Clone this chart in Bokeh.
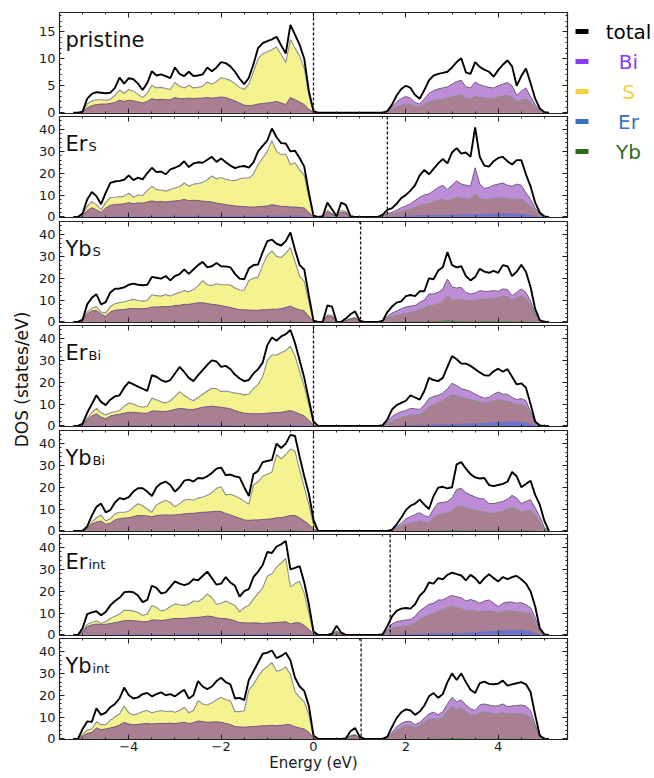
import numpy as np
from bokeh.plotting import figure
from bokeh.layouts import row, column
from bokeh.models import Range1d, SingleIntervalTicker, LinearAxis, Span, Label, ColumnDataSource
from bokeh.embed import file_html
from bokeh.resources import INLINE
from bokeh.core.properties import value

# energy grid (eV): -5.2 ... 5.1, step 0.1  (valence 54 pts | gap 12 pts | conduction 38 pts)
energy = [round(-5.2 + 0.1 * k, 1) for k in range(104)]

x_tick_labels = {-4: "\u22124", -2: "\u22122", 0: "0", 2: "2", 4: "4"}

# ---------------- pristine ----------------
pristine_total = [0,0,0.2,2.6,3.5,3.8,3.7,3.6,3.7,4.6, 6.5,5.4,6.4,6.2,5.4,4.2,5.5,7.7,6.9,7.1, 6.8,6.4,8.4,7.2,6.8,7.6,6.8,6.9,7.1,8.4, 7.7,8.4,9.4,9.2,8.6,7.6,6.3,5.3,6.5,9.0, 12.0,12.9,13.3,13.6,14.1,12.5,11.0,16.3,14.5,12.6, 10.0,4.0,0.3,0,
    0,0,0,0,0,0,0,0,0,0,0,0,
    0,0,0.3,1.5,3.2,4.4,5.0,4.6,3.3,2.6, 4.2,6.0,6.9,7.2,7.4,7.6,8.4,9.4,10.1,7.5, 7.2,9.4,8.5,8.0,7.6,6.7,7.9,8.9,9.7,8.6, 5.0,6.8,8.2,5.5,2.6,0.8,0.1,0]
pristine_s = [0,0,0.1,1.6,2.2,2.4,2.4,2.3,2.5,3.2, 4.2,3.6,4.3,4.0,3.4,2.8,3.6,5.1,4.6,4.7, 4.5,4.3,5.6,4.9,4.6,5.1,4.6,4.7,4.9,5.7, 5.3,5.8,6.5,6.3,6.0,5.4,4.7,4.3,5.3,7.6, 10.0,10.9,11.3,11.7,12.2,10.8,9.3,13.6,12.0,10.5, 8.2,3.2,0.2,0,
    0,0,0,0,0,0,0,0,0,0,0,0,
    0,0,0.1,0.6,1.1,1.4,1.6,1.5,1.1,1.0, 1.5,2.0,2.2,2.4,2.5,2.7,2.9,3.2,3.3,2.7, 2.5,3.0,2.8,2.7,2.6,2.6,2.9,3.1,3.2,2.9, 2.0,2.3,2.6,1.8,1.0,0.3,0.05,0]
pristine_bi = [0,0,0.1,0.9,1.3,1.5,1.6,1.6,1.7,1.9, 2.3,2.1,2.3,2.2,2.0,1.8,2.1,2.6,2.4,2.5, 2.4,2.4,2.8,2.6,2.6,2.7,2.6,2.7,2.7,2.8, 2.7,2.8,2.9,2.8,2.5,2.2,1.8,1.4,1.3,1.4, 1.6,1.7,1.8,1.9,2.1,1.8,1.5,2.8,2.4,2.0, 1.5,0.6,0.1,0,
    0,0,0,0,0,0,0,0,0,0,0,0,
    0,0,0.2,1.0,2.0,2.6,3.0,2.7,1.9,1.6, 2.6,3.6,4.1,4.4,4.6,4.8,5.3,5.8,6.0,4.8, 4.6,5.7,5.2,4.9,4.7,4.6,5.0,5.3,5.6,5.0, 3.2,4.0,4.6,3.0,1.5,0.5,0.1,0]

# ---------------- Er_S ----------------
ers_total = [0,0,1.5,8.0,11.4,9.5,5.8,11.0,15.6,16.2, 16.5,17.0,19.0,16.8,18.0,17.2,20.0,22.5,20.5,20.8, 19.5,21.8,22.5,23.5,25.5,22.8,24.5,25.0,24.8,26.2, 27.5,25.2,26.8,25.0,23.5,22.3,23.0,23.3,22.6,25.0, 30.0,32.5,35.0,40.5,36.5,33.8,33.6,30.0,30.3,27.0, 23.0,11.0,0.5,0,
    0.3,6.5,3.5,0.3,6.5,5.5,0.3,0,0,0,0,0,
    0,1.0,3.2,4.0,6.0,8.6,10.0,12.0,14.5,19.0, 21.5,19.5,22.0,24.5,26.5,24.5,29.5,31.5,29.0,29.5, 27.5,41.0,27.5,23.5,23.0,25.5,27.0,27.5,25.5,24.0, 26.0,26.0,19.5,14.0,6.5,2.0,0.2,0]
ers_s = [0,0,0.8,4.8,7.0,5.5,3.2,6.5,8.9,9.0, 9.2,9.5,10.8,9.0,10.0,9.8,12.0,14.0,12.5,12.3, 11.8,12.5,13.2,13.8,15.5,14.0,15.0,15.3,15.8,17.0, 18.7,17.5,18.0,17.2,16.8,16.6,17.5,17.8,17.8,19.5, 24.0,27.0,30.0,35.0,30.0,28.5,28.8,24.0,24.8,21.5, 19.0,9.0,0.4,0,
    0.1,3.0,1.6,0.1,2.9,2.5,0.1,0,0,0,0,0,
    0,0.3,0.8,1.2,1.8,2.4,3.0,3.5,4.3,5.2, 5.8,6.0,6.8,7.5,8.0,7.2,8.0,8.8,8.5,8.3, 8.2,10.5,8.5,7.8,8.0,8.3,8.5,8.7,8.3,8.0, 8.2,8.0,6.5,4.8,2.5,0.8,0.1,0]
ers_bi = [0,0,0.5,2.8,4.2,3.2,2.0,4.0,5.3,5.6, 5.8,6.0,6.5,6.0,6.4,6.3,6.8,7.3,6.9,7.0, 6.8,7.1,7.3,7.5,8.0,7.4,7.6,7.5,7.2,7.0, 6.8,6.3,6.0,5.6,5.3,5.0,4.8,4.7,4.5,4.5, 4.6,4.8,5.0,5.6,5.2,4.8,4.8,4.5,4.5,4.3, 4.0,2.0,0.1,0,
    0.1,2.2,1.2,0.1,2.1,1.8,0.1,0,0,0,0,0,
    0,0.5,1.5,2.0,3.0,4.2,5.0,6.0,7.5,9.0, 10.0,10.5,12.0,13.5,14.5,12.5,14.5,16.5,15.0,14.5, 14.0,22.5,15.0,13.0,13.5,14.5,15.0,15.5,14.5,14.0, 15.0,14.5,11.0,8.0,4.0,1.2,0.1,0]
ers_er = [0,0,0.1,0.2,0.3,0.2,0.2,0.2,0.3,0.3, 0.3,0.3,0.3,0.3,0.3,0.3,0.3,0.4,0.3,0.3, 0.3,0.3,0.4,0.4,0.4,0.4,0.4,0.4,0.4,0.4, 0.4,0.4,0.4,0.4,0.4,0.4,0.4,0.4,0.4,0.4, 0.5,0.5,0.5,0.6,0.5,0.5,0.5,0.5,0.5,0.5, 0.4,0.2,0,0,
    0,0.5,0.3,0,0.4,0.4,0,0,0,0,0,0,
    0,0,0.1,0.2,0.3,0.4,0.5,0.6,0.7,0.8, 0.8,0.9,0.9,1.0,1.0,1.0,1.1,1.1,1.2,1.2, 1.2,1.3,1.3,1.3,1.4,1.4,1.5,1.5,1.5,1.5, 1.5,1.4,1.2,0.9,0.5,0.2,0,0]

# ---------------- Yb_S ----------------
ybs_total = [0,0,1.0,8.0,11.0,12.6,8.0,9.0,13.5,15.2, 15.3,15.8,17.0,17.5,17.0,16.8,17.0,20.6,20.2,19.8, 21.0,19.0,21.0,21.9,24.0,22.0,24.0,26.0,27.5,25.0, 25.5,27.0,25.5,25.4,25.0,22.0,19.8,19.5,24.5,26.0, 26.3,32.0,37.0,37.7,35.8,35.0,37.0,41.0,33.0,26.0, 24.0,12.0,0.5,0,
    0,7.5,7.0,0,0,1.5,3.5,4.8,0.5,0,0,0,
    0,0.5,4.5,7.0,8.8,9.4,11.8,12.3,11.8,14.0, 14.0,20.0,19.5,23.5,25.0,32.0,26.0,25.0,25.5,21.0, 19.0,20.5,24.3,23.0,22.5,23.4,22.5,26.0,25.5,21.0, 23.0,26.2,23.0,16.0,6.0,0.8,0,0]
ybs_s = [0,0,0.6,4.5,6.2,7.0,4.5,4.0,7.0,8.3, 8.8,9.2,9.8,10.3,9.8,9.5,9.8,12.4,12.0,11.8, 12.5,11.8,12.8,13.5,14.3,13.8,14.8,16.5,18.9,17.0, 16.6,17.5,17.0,17.0,16.9,15.5,14.6,14.5,19.0,20.0, 20.5,26.0,30.5,32.5,30.0,29.5,31.5,34.0,27.5,21.0, 18.5,9.0,0.3,0,
    0,3.2,3.0,0,0,0.6,1.5,2.0,0.2,0,0,0,
    0,0.2,1.5,2.3,2.9,3.3,3.8,4.3,4.6,5.5, 6.3,7.5,7.6,8.3,9.2,11.8,10.0,10.0,10.2,9.8, 9.5,9.8,10.5,10.5,10.6,10.8,11.0,11.8,11.5,10.0, 10.8,11.8,10.5,7.5,3.0,0.3,0,0]
ybs_bi = [0,0,0.4,3.5,5.0,5.2,3.5,2.5,4.5,5.3, 5.5,5.7,6.0,6.1,6.0,6.0,6.2,6.8,6.8,6.9, 7.0,7.0,7.5,7.6,8.0,8.0,8.4,8.7,8.8,8.4, 8.0,7.8,7.4,7.0,6.6,6.0,5.6,5.5,5.4,5.3, 5.3,5.5,5.6,5.8,5.8,6.0,6.6,7.2,6.2,5.5, 5.0,2.5,0.1,0,
    0,2.5,2.3,0,0,0.5,1.2,1.6,0.2,0,0,0,
    0,0.3,2.5,4.0,5.0,6.0,6.8,7.2,7.5,9.0, 10.0,12.8,12.8,13.5,15.0,19.6,16.0,15.5,15.8,13.5, 12.8,13.2,14.3,14.0,14.0,14.3,14.0,15.1,14.8,12.0, 13.5,15.1,13.5,9.5,4.0,0.5,0,0]
ybs_yb = [0,0,0,0.1,0.2,0.2,0.1,0.1,0.2,0.2, 0.2,0.2,0.2,0.2,0.2,0.2,0.2,0.2,0.2,0.2, 0.2,0.2,0.2,0.2,0.2,0.2,0.2,0.2,0.3,0.2, 0.2,0.2,0.2,0.2,0.2,0.2,0.2,0.2,0.2,0.2, 0.2,0.3,0.3,0.3,0.3,0.3,0.3,0.3,0.3,0.2, 0.2,0.1,0,0,
    0,0.4,0.3,0,0,0.1,0.2,0.3,0,0,0,0,
    0,0,0.1,0.2,0.2,0.3,0.3,0.3,0.3,0.3, 0.3,0.4,0.4,0.4,0.5,0.8,0.5,0.4,0.4,0.4, 0.3,0.3,0.4,0.4,0.4,0.4,0.4,0.4,0.4,0.3, 0.3,0.4,0.3,0.2,0.1,0,0,0]

# ---------------- Er_Bi ----------------
erbi_total = [0,0,1.0,6.0,10.0,14.0,11.0,9.5,12.0,13.5, 14.0,17.5,20.0,19.0,18.0,17.0,16.0,23.2,22.5,21.0, 20.2,21.0,24.0,27.0,24.7,22.0,20.5,23.2,25.5,28.0, 30.0,29.5,27.0,27.5,26.0,23.5,21.7,20.5,21.0,24.0, 26.0,29.0,37.0,40.5,39.0,41.0,42.0,44.0,38.0,30.0, 22.0,12.0,2.0,0,
    0,0,0,0,0,0,0,0,0,0,0,0,
    0,0.3,3.0,7.5,9.5,10.5,11.5,14.0,13.0,12.0, 16.0,22.0,21.0,20.5,22.0,27.0,32.0,30.5,28.5,28.5, 27.5,26.0,24.5,23.2,23.0,25.0,26.2,24.8,26.0,22.5, 19.0,19.5,17.5,10.0,2.0,0.2,0,0]
erbi_s = [0,0,0.5,3.5,6.0,8.0,6.0,5.0,6.0,6.5, 7.0,9.0,10.5,10.0,9.0,8.5,9.0,12.7,12.0,11.0, 10.5,11.5,13.5,15.7,14.0,12.5,11.5,13.0,14.5,16.0, 17.2,17.0,15.7,16.0,15.5,15.0,14.8,14.2,14.5,17.0, 19.0,22.5,30.0,32.5,32.5,33.5,34.5,36.5,32.0,25.0, 18.0,9.5,1.5,0,
    0,0,0,0,0,0,0,0,0,0,0,0,
    0,0.1,1.0,2.2,3.0,3.8,4.3,5.0,5.0,5.2, 6.5,8.5,9.5,10.5,11.5,13.0,14.2,13.8,13.0,12.5, 12.0,11.5,11.0,10.5,10.8,11.5,12.0,11.5,11.3,10.5, 9.8,9.7,9.0,5.0,1.2,0.1,0,0]
erbi_bi = [0,0,0.4,2.8,4.5,5.5,4.0,3.2,4.5,5.0, 5.3,5.8,6.2,6.2,6.0,5.8,5.8,6.8,6.8,6.6, 6.6,7.0,7.5,8.0,7.8,7.5,7.5,8.0,8.5,8.8, 9.0,8.8,8.5,8.2,7.8,7.0,6.3,5.8,5.6,5.5, 5.5,5.6,5.8,6.0,6.0,6.2,6.6,7.0,6.3,5.5, 4.5,2.5,0.4,0,
    0,0,0,0,0,0,0,0,0,0,0,0,
    0,0.2,2.0,4.3,5.5,6.5,7.0,8.0,7.8,7.5, 9.5,12.5,13.5,14.0,15.0,17.0,19.5,18.5,17.0,16.5, 15.7,14.5,13.5,12.7,13.0,14.5,15.5,14.5,14.5,13.0, 12.0,12.5,11.5,6.5,1.5,0.1,0,0]
erbi_er = [0,0,0.1,0.2,0.2,0.3,0.2,0.2,0.2,0.3, 0.3,0.3,0.3,0.3,0.3,0.3,0.3,0.3,0.3,0.3, 0.3,0.3,0.3,0.4,0.4,0.4,0.4,0.4,0.4,0.4, 0.4,0.4,0.4,0.4,0.4,0.3,0.3,0.3,0.3,0.3, 0.3,0.4,0.4,0.4,0.4,0.4,0.4,0.4,0.4,0.3, 0.3,0.2,0,0,
    0,0,0,0,0,0,0,0,0,0,0,0,
    0,0,0.1,0.2,0.3,0.3,0.3,0.4,0.4,0.5, 0.5,0.6,0.6,0.7,0.8,0.8,0.9,1.0,1.0,1.1, 1.2,1.2,1.3,1.4,1.5,1.7,1.8,1.9,2.0,2.0, 2.0,1.9,1.6,1.0,0.3,0,0,0]

# ---------------- Yb_Bi ----------------
ybbi_total = [0,0,0,2.0,7.0,11.0,12.5,8.5,9.5,13.0, 15.0,14.5,15.5,18.0,19.5,19.5,18.0,16.0,20.0,21.8, 22.6,21.0,18.0,20.0,23.0,23.5,22.6,24.2,24.0,25.0, 26.5,28.5,29.0,25.5,25.8,25.0,24.5,20.0,16.0,26.0, 27.5,31.5,32.0,32.5,40.0,38.0,40.0,44.0,43.5,34.0, 25.0,17.0,5.0,0,
    0,0,0,0,0,0,0,0,0,0,0,0,
    0,0,0,0.5,3.0,6.0,9.5,11.5,12.5,14.3, 12.0,10.0,16.0,19.8,20.2,19.5,20.0,30.5,31.5,28.5, 26.0,24.5,24.0,24.2,21.0,20.5,21.0,21.5,22.5,27.0, 25.0,20.0,21.5,23.0,16.5,12.0,4.5,0]
ybbi_s = [0,0,0,1.0,4.0,6.0,7.3,4.5,5.5,7.8, 8.5,8.5,9.0,10.9,12.4,11.5,10.0,8.5,12.0,13.0, 14.0,13.0,11.0,12.5,14.0,14.5,14.0,15.0,15.5,16.3, 17.5,19.5,20.2,16.5,16.8,16.0,15.0,13.5,12.3,21.0, 22.5,25.0,26.0,27.0,35.0,33.0,35.0,37.5,36.5,28.0, 20.0,12.0,3.0,0,
    0,0,0,0,0,0,0,0,0,0,0,0,
    0,0,0,0.2,1.0,2.0,3.0,3.5,4.0,4.5, 3.8,3.5,6.0,7.5,7.8,8.2,9.0,11.0,11.3,10.5, 10.0,9.5,9.0,8.8,8.0,8.2,8.5,9.0,9.8,10.6, 10.0,8.5,9.0,9.5,7.0,4.0,0.8,0]
ybbi_bi = [0,0,0,0.8,3.0,4.0,4.5,3.0,3.5,5.0, 5.6,5.8,6.0,6.5,7.0,7.0,6.8,6.5,7.0,7.2, 7.3,7.2,7.3,7.5,7.8,8.0,8.0,8.3,8.5,8.6, 8.8,9.0,8.8,8.0,7.3,6.5,5.8,5.0,4.8,5.0, 5.0,5.2,5.3,5.5,6.0,6.0,6.5,7.0,7.0,6.0, 4.5,3.0,0.8,0,
    0,0,0,0,0,0,0,0,0,0,0,0,
    0,0,0,0.3,1.8,3.5,5.5,6.5,7.5,8.3, 7.0,6.3,10.0,12.8,13.0,13.5,15.0,19.0,19.5,17.5, 16.5,15.5,14.8,14.5,12.5,12.5,13.0,13.5,14.5,16.3, 15.0,12.5,13.5,14.3,10.5,6.5,1.5,0]
ybbi_yb = [0,0,0,0.1,0.2,0.2,0.2,0.1,0.2,0.2, 0.2,0.2,0.2,0.2,0.2,0.2,0.2,0.2,0.2,0.2, 0.2,0.2,0.2,0.2,0.2,0.2,0.2,0.2,0.2,0.2, 0.3,0.3,0.3,0.2,0.2,0.2,0.2,0.2,0.2,0.2, 0.2,0.2,0.2,0.2,0.3,0.3,0.3,0.3,0.3,0.2, 0.2,0.1,0,0,
    0,0,0,0,0,0,0,0,0,0,0,0,
    0,0,0,0,0.1,0.1,0.2,0.2,0.2,0.2, 0.2,0.2,0.3,0.3,0.3,0.3,0.3,0.4,0.4,0.3, 0.3,0.3,0.3,0.3,0.3,0.3,0.3,0.3,0.3,0.3, 0.3,0.3,0.3,0.3,0.2,0.1,0,0]

# ---------------- Er_int ----------------
erint_total = [0,0,3.0,9.5,10.3,10.8,9.0,10.5,13.5,15.5, 17.0,19.5,19.8,19.5,18.0,15.0,16.0,22.5,21.5,19.0, 19.5,22.0,24.5,23.5,22.8,23.5,25.5,25.0,27.0,29.0, 26.0,23.0,23.5,26.5,24.0,22.5,17.5,20.0,21.0,26.5, 29.0,32.0,38.0,37.5,40.5,41.5,43.0,30.0,30.7,31.5, 24.0,14.0,1.5,0,
    0,0,0.5,4.2,1.0,0,0,0,0,0,0,0,
    0,0.3,4.0,8.5,11.0,12.0,12.3,12.0,14.0,18.0, 20.0,24.0,23.5,26.0,25.5,27.5,28.5,27.8,27.2,25.0, 27.5,26.0,23.5,26.0,27.8,26.0,24.5,26.5,25.5,26.5, 27.0,25.5,23.5,20.0,13.0,3.0,0.2,0]
erint_s = [0,0,1.5,4.8,5.8,6.5,5.2,6.0,7.5,8.5, 9.5,11.3,11.2,11.0,10.2,9.0,9.5,13.5,12.5,11.0, 11.5,13.0,14.2,13.8,13.5,14.0,15.5,15.3,16.5,18.8, 17.0,14.0,14.5,15.5,14.5,13.5,10.5,12.5,13.5,16.5, 19.0,21.5,27.0,28.0,31.0,33.0,35.0,22.0,23.5,24.5, 19.0,10.0,1.0,0,
    0,0,0.2,1.8,0.4,0,0,0,0,0,0,0,
    0,0.1,1.5,3.0,3.5,3.8,4.2,4.5,5.3,7.0, 8.0,9.2,9.8,10.8,11.5,12.5,13.0,12.5,12.0,11.0, 11.2,11.0,10.5,10.8,11.0,10.5,10.0,10.5,11.0,11.0, 10.5,10.5,10.0,9.5,5.5,1.5,0.1,0]
erint_bi = [0,0,1.2,3.8,4.5,5.0,4.6,4.8,5.2,5.6, 6.0,6.5,6.6,6.5,6.3,6.0,6.0,6.8,6.8,6.6, 6.8,7.2,7.5,7.5,7.5,7.7,8.0,8.0,8.3,8.6, 8.4,7.8,7.5,7.4,7.0,6.4,5.6,5.5,5.4,5.5, 5.4,5.2,5.4,5.5,5.7,5.8,6.0,5.0,5.5,5.5, 4.3,2.5,0.3,0,
    0,0,0.2,1.5,0.3,0,0,0,0,0,0,0,
    0,0.2,2.5,5.0,6.0,6.5,6.8,7.0,8.5,11.0, 12.5,14.0,14.5,16.0,16.0,17.2,18.0,17.5,17.0,15.5, 16.2,15.5,14.5,15.5,16.0,14.5,13.0,14.5,15.0,15.0, 14.5,14.8,13.8,12.5,8.0,2.0,0.1,0]
erint_er = [0,0,0.1,0.2,0.2,0.2,0.2,0.2,0.2,0.3, 0.3,0.3,0.3,0.3,0.3,0.3,0.3,0.3,0.3,0.3, 0.3,0.3,0.4,0.4,0.4,0.4,0.4,0.4,0.4,0.4, 0.4,0.4,0.4,0.4,0.4,0.3,0.3,0.3,0.3,0.3, 0.3,0.4,0.4,0.4,0.4,0.4,0.4,0.3,0.3,0.3, 0.3,0.2,0,0,
    0,0,0,0.4,0.1,0,0,0,0,0,0,0,
    0,0,0.1,0.2,0.3,0.3,0.4,0.4,0.5,0.5, 0.6,0.6,0.7,0.7,0.8,0.8,0.8,0.9,0.9,1.0, 1.1,1.2,1.3,1.5,1.8,1.9,2.0,2.1,2.2,2.2, 2.3,2.3,2.0,1.6,0.8,0.2,0,0]

# ---------------- Yb_int ----------------
ybint_total = [0,0,4.5,8.0,7.8,14.0,11.0,12.0,14.5,16.0, 18.5,23.5,20.0,18.5,19.0,20.5,21.0,19.5,20.5,21.3, 20.0,20.5,19.5,21.0,22.5,18.5,20.0,26.5,24.0,22.8, 24.0,26.5,28.0,26.0,25.0,18.5,18.8,17.8,27.0,31.0, 35.0,39.0,39.5,40.5,37.0,38.0,39.5,36.0,28.0,24.0, 22.0,15.0,1.5,0,
    0,0,0,0,0,0.2,3.5,5.0,1.0,0,0,0,
    0,0,1.0,5.5,9.5,12.2,13.5,13.0,11.0,12.5, 15.3,19.5,21.0,18.8,20.5,26.0,30.0,27.0,30.0,26.0, 22.5,21.0,25.5,26.2,25.2,25.0,25.3,26.7,24.4,25.0, 25.5,26.0,25.0,21.5,11.0,1.5,0,0]
ybint_s = [0,0,2.0,4.0,4.5,7.8,6.5,6.5,8.5,10.0, 11.5,15.0,12.0,11.0,11.5,12.5,13.0,12.0,12.5,13.0, 12.5,12.8,12.2,13.0,14.5,12.0,13.0,17.5,16.0,15.5, 16.5,18.0,19.0,18.0,17.5,12.5,12.5,12.8,22.5,25.0, 28.5,31.5,33.0,35.0,31.0,31.5,33.0,29.5,21.5,19.0, 17.0,11.0,1.0,0,
    0,0,0,0,0,0.1,1.5,2.0,0.4,0,0,0,
    0,0,0.3,2.0,3.8,5.0,6.0,6.0,5.0,6.0, 7.5,8.8,9.2,8.8,10.0,12.5,15.0,13.5,14.0,12.5, 11.0,10.7,12.0,12.2,12.0,11.5,11.5,12.0,11.3,11.5, 11.5,11.5,11.0,9.5,5.0,0.5,0,0]
ybint_bi = [0,0,1.2,2.5,3.0,5.0,4.2,4.5,5.0,5.5, 6.3,7.5,6.8,6.5,6.6,6.9,7.0,6.8,7.0,7.1, 7.0,7.2,7.0,7.3,7.6,7.0,7.4,8.2,7.9,7.6, 7.7,7.8,7.6,7.0,6.6,5.6,5.5,5.3,5.5,5.6, 5.8,6.0,6.0,6.2,6.0,6.2,6.5,6.5,5.5,5.0, 4.5,3.0,0.3,0,
    0,0,0,0,0,0.1,1.2,1.7,0.3,0,0,0,
    0,0,0.5,3.0,5.5,7.0,8.0,8.0,6.5,7.5, 9.5,11.5,12.2,11.0,12.5,16.0,19.0,17.0,17.8,15.5, 13.8,13.0,15.5,16.0,15.5,15.0,15.2,16.0,14.8,15.0, 15.3,15.5,15.0,13.0,6.5,0.8,0,0]
ybint_yb = [0,0,0.1,0.2,0.2,0.2,0.2,0.2,0.2,0.2, 0.2,0.3,0.2,0.2,0.2,0.2,0.2,0.2,0.2,0.2, 0.2,0.2,0.2,0.2,0.2,0.2,0.2,0.3,0.2,0.2, 0.2,0.2,0.2,0.2,0.2,0.2,0.2,0.2,0.2,0.2, 0.3,0.3,0.3,0.3,0.3,0.3,0.3,0.3,0.2,0.2, 0.2,0.1,0,0,
    0,0,0,0,0,0,0.3,0.4,0.1,0,0,0,
    0,0,0,0.1,0.2,0.2,0.2,0.2,0.2,0.2, 0.2,0.3,0.3,0.3,0.3,0.4,0.4,0.4,0.4,0.3, 0.3,0.3,0.3,0.3,0.3,0.3,0.3,0.3,0.3,0.3, 0.3,0.3,0.3,0.2,0.1,0,0,0]

panel_names = ["pristine", "Er", "Yb", "Er", "Yb", "Er", "Yb"]
panel_subs = ["", "S", "S", "Bi", "Bi", "int", "int"]
fermi_levels = [0.0, 1.6, 1.02, 0.0, 0.0, 1.66, 1.03]
totals = [pristine_total, ers_total, ybs_total, erbi_total, ybbi_total, erint_total, ybint_total]
s_pdos = [pristine_s, ers_s, ybs_s, erbi_s, ybbi_s, erint_s, ybint_s]
bi_pdos = [pristine_bi, ers_bi, ybs_bi, erbi_bi, ybbi_bi, erint_bi, ybint_bi]
dopant_pdos = [None, ers_er, ybs_yb, erbi_er, ybbi_yb, erint_er, ybint_yb]
dopant_kind = [None, "Er", "Yb", "Er", "Yb", "Er", "Yb"]
y_max = [18.6, 46, 46, 46, 46, 46, 46]
y_min = [-0.15, -0.3, -0.3, -0.3, -0.3, -0.3, -0.3]
y_tick_step = [5, 10, 10, 10, 10, 10, 10]

legend_names = ["total", "Bi", "S", "Er", "Yb"]
legend_colors = ["#000000", "#8a3cf0", "#f0d23c", "#3a72c0", "#2e6b1f"]

YELLOW = "#f4f38f"
PURPLE = "#be8dd8"
MAUVE = "#aa7f92"
DOPANT_FILL = {"Er": "#6470d4", "Yb": "#3f8a35"}
FONT = "DejaVu Sans"

for arrs in (totals, s_pdos, bi_pdos):
    for a in arrs:
        assert len(a) == len(energy), len(a)
for a in dopant_pdos:
    if a is not None:
        assert len(a) == len(energy), len(a)

FRAME_W, FRAME_H = 508, 101
PAD = 8                                      # border around each frame so edge tick labels are not cut
frame_tops = [14, 118, 223, 327, 432, 536, 640]   # wanted frame tops (page px)
sub_dx = {"Er": 23, "Yb": 27, "pristine": 0}

panels = []
n = len(panel_names)
prev_bottom = None
for i in range(n):
    last = i == n - 1
    first = i == 0
    top_border = 12 if first else PAD
    if first:
        margin_top = 0
    else:
        margin_top = (frame_tops[i] - PAD) - prev_bottom
    p = figure(frame_width=FRAME_W, frame_height=FRAME_H,
               x_range=Range1d(-5.5, 5.5), y_range=Range1d(y_min[i], y_max[i]),
               output_backend="svg", toolbar_location=None,
               min_border_left=22, min_border_right=2,
               min_border_top=top_border, min_border_bottom=0 if last else PAD,
               margin=(margin_top, 0, 0, 0))
    prev_bottom = frame_tops[i] + FRAME_H + PAD
    p.xgrid.visible = False
    p.ygrid.visible = False
    p.outline_line_color = "#222222"
    p.outline_line_width = 1.2
    p.background_fill_color = "white"
    p.border_fill_color = None

    p.add_layout(LinearAxis(), "above")
    p.add_layout(LinearAxis(), "right")
    for ax in p.xaxis:
        ax.ticker = SingleIntervalTicker(interval=2, num_minor_ticks=4)
    for ax in p.yaxis:
        ax.ticker = SingleIntervalTicker(interval=y_tick_step[i], num_minor_ticks=5)
    for ax in p.axis:
        ax.major_tick_in = 5
        ax.major_tick_out = 0
        ax.minor_tick_in = 2
        ax.minor_tick_out = 0
        ax.axis_line_color = None
        ax.major_tick_line_color = "#222222"
        ax.minor_tick_line_color = "#222222"
        ax.major_label_text_font = FONT
        ax.major_label_text_font_size = "1px"
        ax.major_label_text_alpha = 0
        ax.major_label_standoff = 0
    left_ax = p.left[0]
    left_ax.major_label_text_font_size = "13px"
    left_ax.major_label_text_alpha = 1
    left_ax.major_label_standoff = 4
    left_ax.major_label_text_color = "#1a1a1a"
    if last:
        bax = p.below[0]
        bax.major_label_text_font_size = "13px"
        bax.major_label_text_alpha = 1
        bax.major_label_standoff = 2
        bax.major_label_text_color = "#1a1a1a"
        bax.major_label_overrides = x_tick_labels
        bax.axis_label = "Energy (eV)"
        bax.axis_label_text_font = FONT
        bax.axis_label_text_font_size = "15px"
        bax.axis_label_text_font_style = "normal"
        bax.axis_label_text_color = "#1a1a1a"
        bax.axis_label_standoff = 0

    dop = dopant_pdos[i]
    src = ColumnDataSource(dict(
        e=energy, tot=totals[i], s=s_pdos[i], bi=bi_pdos[i],
        ov=np.minimum(np.array(s_pdos[i]), np.array(bi_pdos[i])),
        dop=dop if dop is not None else [0] * len(energy)))
    p.varea(x="e", y1=0, y2="s", source=src, fill_color=YELLOW)
    p.varea(x="e", y1=0, y2="bi", source=src, fill_color=PURPLE)
    p.varea(x="e", y1=0, y2="ov", source=src, fill_color=MAUVE)
    if dop is not None:
        p.varea(x="e", y1=0, y2="dop", source=src, fill_color=DOPANT_FILL[dopant_kind[i]], fill_alpha=0.9)
    p.line(x="e", y="s", source=src, line_color="#8e8e8e", line_width=1.1)
    p.line(x="e", y="bi", source=src, line_color="#745a7c", line_width=1.0)
    p.line(x="e", y="tot", source=src, line_color="black", line_width=1.9)

    p.add_layout(Span(location=fermi_levels[i], dimension="height", line_color="#111111",
                      line_width=1.3, line_dash="3 2"))

    p.add_layout(Label(x=-5.5, y=y_max[i], x_offset=6, y_offset=-27, text=panel_names[i],
                       text_font=FONT, text_font_size="21px", text_color="#111111",
                       text_baseline="alphabetic"))
    if panel_subs[i]:
        p.add_layout(Label(x=-5.5, y=y_max[i], x_offset=6 + sub_dx[panel_names[i]], y_offset=-30,
                           text=panel_subs[i], text_font=FONT, text_font_size="13px",
                           text_color="#111111", text_baseline="alphabetic"))
    panels.append(p)

COL_H = 772
YL_W = 35
ylab = figure(width=YL_W, height=COL_H, x_range=Range1d(0, YL_W), y_range=Range1d(0, COL_H),
              output_backend="svg", toolbar_location=None, x_axis_type=None, y_axis_type=None,
              min_border=0)
ylab.outline_line_color = None
ylab.border_fill_color = None
ylab.add_layout(Label(x=21, y=COL_H - 379, text="DOS (states/eV)", angle=np.pi / 2,
                      text_font=FONT, text_font_size="17px", text_align="center",
                      text_baseline="middle", text_color="#111111"))

LEG_W, LEG_H = 84, 170
leg = figure(width=LEG_W, height=LEG_H, x_range=Range1d(0, LEG_W), y_range=Range1d(0, LEG_H),
             output_backend="svg", toolbar_location=None, x_axis_type=None, y_axis_type=None,
             min_border=0)
leg.outline_line_color = None
leg.border_fill_color = None
leg_y = [LEG_H - (31 + 30 * k) for k in range(len(legend_names))]
leg_src = ColumnDataSource(dict(y=leg_y, name=legend_names, color=legend_colors))
leg.rect(x=12.5, y="y", width=13, height=5, width_units="screen", height_units="screen",
         fill_color="color", line_color=None, source=leg_src)
leg.text(x=59, y="y", text="name", text_color="color", text_font=value(FONT),
         text_font_size="20px", text_align="center", text_baseline="middle", source=leg_src)

layout = row(ylab, column(*panels), leg)
open("out.html", "w").write(file_html(layout, INLINE))
